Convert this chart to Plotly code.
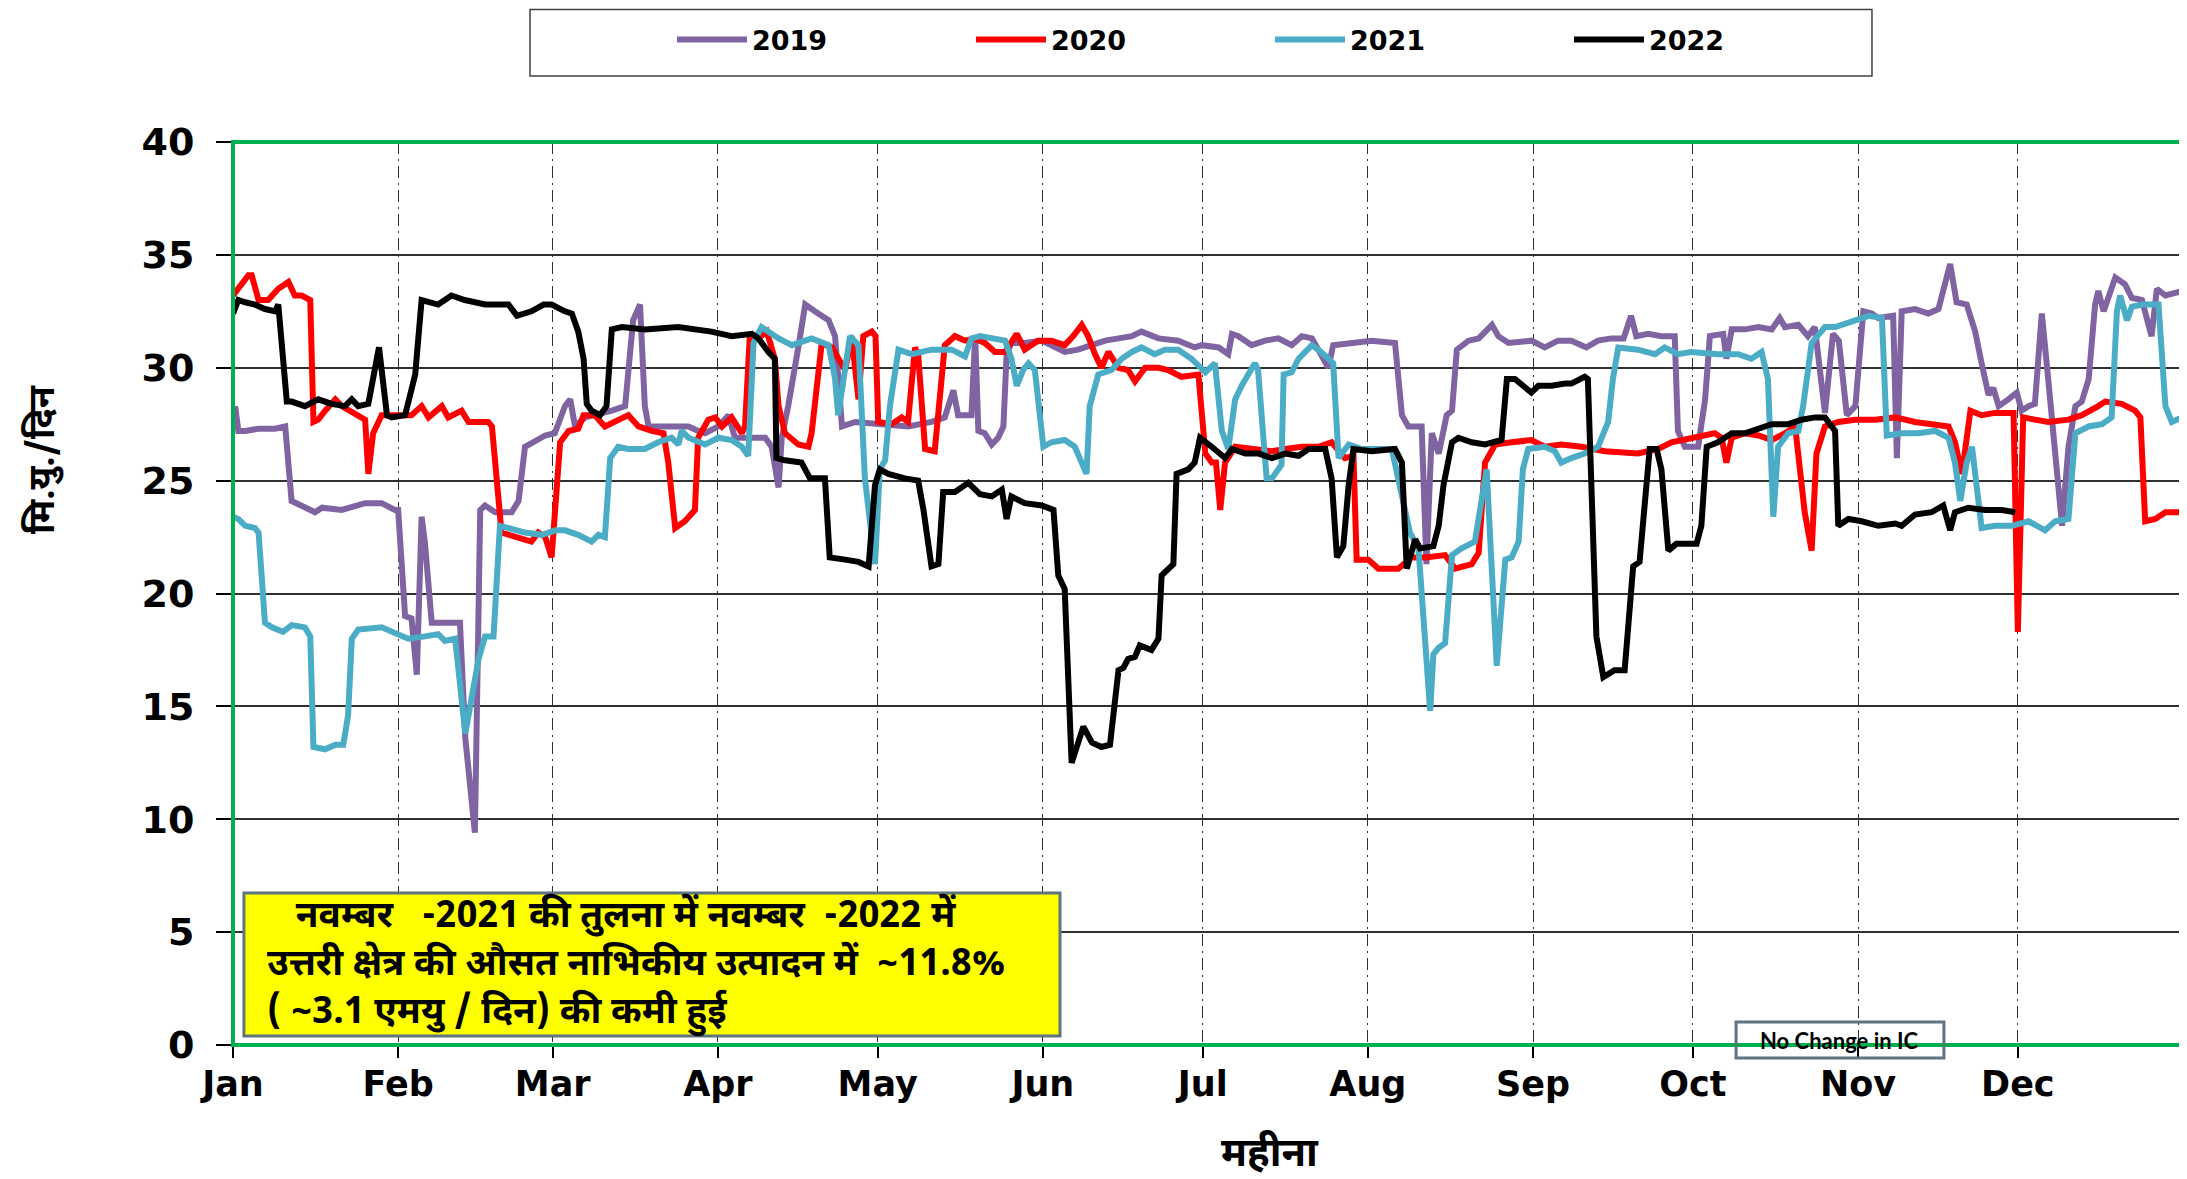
import pandas as pd
import plotly.graph_objects as go

# ---------------- data (day of year, value in MU/day) ----------------
months = ["Jan", "Feb", "Mar", "Apr", "May", "Jun", "Jul", "Aug", "Sep", "Oct", "Nov", "Dec", ""]

day_2019 = [0.4, 1, 2.3, 4.8, 7.9, 9.8, 11, 12.9, 15.4, 16.7, 20.4, 24.8, 27.9, 30.4, 31, 32.3, 33.5, 34.5, 35.4, 36,
            37.3, 39.2, 42.6, 43.6, 45.4, 46.4, 47.3, 49.2, 52.3, 53.6, 54.8, 58.6, 60.4, 62.3, 63.3, 64.2, 66.1, 71.1,
            73.6, 75.1, 76.4, 77.3, 78, 80.5, 85.5, 87.3, 88.6, 91.1, 93, 94.2, 96.1, 99.9, 101.1, 102.4, 103, 104.2,
            106.1, 107.4, 109.2, 111.8, 113, 114.3, 116.8, 121.1, 126.7, 131.1, 133.6, 135.2, 136.1, 138.6, 139.3,
            139.9, 141.1, 142.4, 143.6, 144.6, 145.2, 146.1, 148.6, 151.8, 156.1, 158.6, 161.2, 163.7, 166.2, 168.7,
            170.5, 173.7, 177.4, 180.5, 181.8, 185, 186.8, 187.5, 188.7, 191.2, 193.7, 196.2, 198.7, 200.6, 202.5,
            205.6, 206.5, 210, 213.7, 218.1, 219.4, 220.6, 223.1, 224, 225, 226.3, 227.8, 228.8, 229.7, 231.9, 233.8,
            236.3, 237.5, 239.4, 243.7, 246.2, 248.7, 251.2, 254, 256.2, 258.7, 261, 262.4, 263.4, 265.6, 268.1,
            270.6, 271.2, 272.5, 275, 276.3, 277.2, 279.7, 280.3, 281.3, 283.8, 286.3, 288.8, 290.3, 291.3, 293.8,
            295.6, 296.9, 298.8, 300.3, 301.4, 302.9, 304.5, 306, 307.6, 308.8, 311.6, 312.3, 313.2, 315.7, 318.2,
            320.1, 322.3, 323.5, 325.4, 327, 328.2, 329.5, 330.4, 331.4, 333.2, 334.8, 335.7, 337, 338.2, 339.5,
            340.7, 343.3, 344.5, 345.8, 347, 348.3, 349.5, 350.1, 351.1, 353.3, 355.1, 356.4, 358.3, 360.1, 361.1,
            362.7, 365.8]
val_2019 = [28.3, 27.2, 27.2, 27.3, 27.3, 27.4, 24.1, 23.9, 23.6, 23.8, 23.7, 24, 24, 23.7, 23.7, 19, 18.9, 16.4, 23.4,
            22.3, 18.7, 18.7, 18.7, 13.6, 9.4, 23.7, 23.9, 23.6, 23.6, 24.1, 26.5, 27, 27.1, 28.3, 28.6, 27.4, 27.8,
            28.1, 28.3, 32.1, 32.8, 28.3, 27.4, 27.4, 27.4, 27.2, 27.1, 27.4, 27.9, 26.9, 26.9, 26.9, 26.5, 24.7,
            26.9, 28.3, 30.9, 32.8, 32.5, 32.1, 31.4, 27.4, 27.6, 27.5, 27.4, 27.6, 27.8, 29, 27.9, 27.9, 31.4, 27.2,
            27.1, 26.6, 26.9, 27.4, 30.6, 31.1, 31.1, 31.2, 30.7, 30.8, 31, 31.2, 31.3, 31.4, 31.6, 31.3, 31.2, 30.9,
            31, 30.9, 30.6, 31.5, 31.4, 31, 31.2, 31.3, 31, 31.4, 31.3, 30, 31, 31.1, 31.2, 31.1, 27.9, 27.4, 27.4,
            21.3, 27.1, 26.2, 27.9, 28.1, 30.8, 31.2, 31.3, 31.9, 31.4, 31.1, 31.2, 30.9, 31.2, 31.2, 30.9, 31.2,
            31.3, 31.3, 32.3, 31.4, 31.5, 31.4, 31.4, 27.2, 26.5, 26.5, 28.6, 31.4, 31.5, 30.4, 31.7, 31.7, 31.8,
            31.7, 32.2, 31.8, 31.9, 31.4, 31.8, 28.0, 31.5, 31.2, 27.9, 28.3, 32.5, 32.4, 32.2, 32.3, 26, 32.5, 32.6,
            32.4, 32.6, 34.6, 32.9, 32.8, 31.6, 30.2, 28.8, 29.1, 28.3, 28.6, 28.9, 28.1, 28.3, 28.4, 32.4, 29.5, 23,
            26.5, 28.3, 28.5, 29.5, 32.8, 33.4, 32.5, 34, 33.7, 33.1, 33, 31.4, 33.5, 33.2, 33.4]

day_2020 = [0, 2.9, 3.5, 4.8, 6.6, 8.5, 10.4, 11.6, 12.9, 14.5, 15.1, 16, 17.3, 19.2, 20.4, 21.7, 23.5, 24.8, 25.4,
            26.3, 27.9, 31, 33.5, 35.4, 36.7, 39.2, 40.4, 42.9, 44.2, 47.9, 48.6, 50.4, 52.9, 56, 57.3, 58.6, 59.8,
            61.4, 63, 64.8, 65.8, 67.9, 69.8, 71.7, 74.2, 76.1, 78.6, 80.8, 81.7, 83, 84.8, 86.7, 87.3, 89.2, 90.5,
            91.8, 93.6, 95.5, 96.1, 97, 98.6, 100.2, 101.7, 102.4, 103.6, 106.1, 108, 108.6, 110.5, 112.4, 113.6,
            114.9, 116.1, 117.4, 118.3, 119.9, 120.6, 121.1, 123.6, 125.5, 126.7, 128, 128.6, 129.9, 131.7, 133.6,
            135.5, 137.4, 139.2, 141.1, 143, 144.9, 147.1, 148.6, 151.1, 153.6, 156.1, 157.7, 159.3, 160.5, 161.8,
            163, 164.3, 166.2, 168, 169.3, 171.2, 173.7, 175.5, 178, 181.2, 182.5, 183.7, 184.5, 185.3, 186.2, 188.1,
            191.2, 195, 197.5, 200.6, 203.7, 206.2, 208.7, 210.3, 210.9, 213.1, 215, 218.7, 221.2, 223.8, 227.5,
            229.4, 232.5, 233.8, 235, 236.9, 240, 243.7, 246.2, 249.3, 253.1, 257.5, 263.7, 267.5, 270, 273.7, 278.1,
            279.4, 280.3, 281.3, 283.8, 286.3, 288.8, 291.3, 293.2, 295, 296.3, 297.2, 298.8, 301.3, 304.5, 308.2,
            312, 315.7, 319.5, 322, 323.2, 324.5, 326.1, 328.2, 330.7, 334.2, 335, 336, 338.2, 340.7, 344.5, 347,
            350.1, 351.4, 354.5, 357, 358, 358.9, 360.8, 362.7, 365.8]
val_2020 = [33.2, 34.1, 34.1, 33, 33, 33.5, 33.8, 33.2, 33.2, 33, 27.6, 27.7, 28.1, 28.6, 28.3, 28.1, 27.9, 27.7, 25.3,
            27.1, 27.9, 27.9, 27.9, 28.3, 27.8, 28.3, 27.8, 28.1, 27.6, 27.6, 27.4, 22.7, 22.5, 22.3, 22.7, 22.5,
            21.6, 26.7, 27.2, 27.3, 27.9, 27.9, 27.4, 27.6, 27.9, 27.4, 27.2, 27.1, 25.8, 22.9, 23.2, 23.7, 26.9,
            27.7, 27.8, 27.4, 27.8, 27.1, 27.4, 31.4, 31.3, 31.6, 30.4, 28.3, 27.1, 26.6, 26.5, 27.1, 31.1, 30.9,
            30.4, 29.9, 31.4, 28.6, 31.4, 31.6, 31.4, 27.6, 27.5, 27.8, 27.6, 30.9, 30.6, 26.4, 26.3, 31, 31.4, 31.2,
            31.3, 31.1, 30.7, 30.7, 31.5, 30.8, 31.2, 31.2, 31, 31.4, 31.9, 31.4, 30.6, 30, 30.7, 30, 29.9, 29.4, 30,
            30, 29.9, 29.6, 29.7, 26.2, 25.8, 25.8, 23.7, 25.8, 26.5, 26.4, 26.3, 26.4, 26.5, 26.5, 26.7, 26, 26.1,
            21.5, 21.5, 21.1, 21.1, 21.6, 21.6, 21.7, 21.1, 21.3, 21.8, 25.8, 26.6, 26.7, 26.8, 26.5, 26.6, 26.5,
            26.3, 26.2, 26.4, 26.7, 26.9, 27.1, 26.9, 25.8, 26.9, 27.1, 27, 26.8, 27.1, 27.4, 23.6, 21.9, 26.2, 27.4,
            27.6, 27.7, 27.7, 27.8, 27.6, 27.5, 27.4, 26.7, 25.3, 28.1, 27.9, 28, 28, 18.3, 27.8, 27.7, 27.6, 27.7,
            27.9, 28.3, 28.5, 28.4, 28.1, 27.8, 23.2, 23.3, 23.6, 23.6]

day_2021 = [0, 1, 2.3, 4.1, 4.8, 6, 7.3, 9.4, 11, 13.5, 14.5, 15.1, 17.3, 19.2, 20.7, 21.6, 22.3, 23.5, 27.9, 31, 32.9,
            36, 38.5, 39.8, 41.7, 43.6, 46.1, 47.3, 48.9, 50.1, 51.7, 54.8, 58, 60.5, 62.3, 64.8, 67.3, 68.6, 69.8,
            70.8, 72.3, 74.2, 77.3, 79.8, 82.3, 83.6, 84.2, 85.5, 88.6, 91.1, 93.6, 95.5, 96.7, 97.7, 99.2, 102.4,
            104.9, 108.6, 111.8, 113, 113.6, 114.9, 115.8, 117.4, 118.6, 120.5, 121.4, 122.4, 123.3, 124.9, 127.4,
            131.1, 134.9, 137.4, 138.6, 140.2, 142.4, 144.9, 146.1, 147.1, 148.3, 149.3, 150.5, 152.1, 153.6, 156.1,
            158, 160.2, 160.8, 162.4, 164.9, 166.8, 168.7, 170.5, 173, 174.9, 177.4, 179.9, 182.5, 184.3, 185.6,
            186.8, 188.1, 189.3, 191.8, 192.4, 194, 195, 196.8, 197.2, 198.7, 200, 202.5, 203.7, 205.6, 206.5, 207.5,
            209.4, 211.9, 215.6, 217.5, 218.7, 220.9, 222.5, 224.7, 225.3, 226.3, 227.5, 228.8, 230.6, 233.1, 235.3,
            237.2, 238.8, 240, 241.3, 242.1, 243.1, 246.2, 248.1, 249.3, 251.2, 253.7, 256.2, 258.1, 259, 260,
            263.7, 266.9, 268.7, 271.2, 273.7, 278.7, 282.5, 285, 286.9, 288.1, 289.1, 290, 291.9, 293.8, 294.7,
            296.3, 298.8, 300.7, 304.5, 307, 309.5, 310.4, 313.2, 316.3, 319.5, 322, 323.2, 324.2, 325.4, 326.4,
            328.2, 330.7, 333.9, 337, 340.1, 342, 344.5, 345.8, 348.3, 350.8, 352.6, 353.6, 354.2, 355.5, 356.4,
            358.3, 361.4, 362.7, 363.9, 365.8]
val_2021 = [23.4, 23.3, 23, 22.9, 22.7, 18.7, 18.5, 18.3, 18.6, 18.5, 18.1, 13.2, 13.1, 13.3, 13.3, 14.6, 18, 18.4,
            18.5, 18.2, 18, 18.1, 18.2, 17.9, 18, 13.8, 17.1, 18.1, 18.1, 23, 22.9, 22.7, 22.6, 22.8, 22.8, 22.6,
            22.3, 22.6, 22.5, 26, 26.5, 26.4, 26.4, 26.7, 26.9, 26.6, 27.2, 26.9, 26.6, 26.9, 26.8, 26.5, 26.1, 31.1,
            31.8, 31.3, 31, 31.3, 31, 29.5, 27.9, 30.1, 31.4, 31, 25.1, 21.3, 25.5, 25.9, 28.3, 30.8, 30.6, 30.8,
            30.8, 30.5, 31.3, 31.4, 31.3, 31.2, 30.4, 29.2, 29.9, 30.2, 29.9, 26.5, 26.7, 26.8, 26.5, 25.3, 28.3,
            29.7, 29.9, 30.4, 30.7, 30.9, 30.6, 30.8, 30.8, 30.4, 29.8, 30.2, 27.2, 26.4, 28.6, 29.2, 30.2, 29.9,
            25.1, 25.1, 25.7, 29.7, 29.8, 30.4, 31, 30.8, 30.4, 30.2, 26, 26.6, 26.4, 26.4, 26.4, 25.1, 22.7, 22,
            14.8, 17.3, 17.6, 17.8, 21.7, 22, 22.3, 25.5, 16.8, 21.5, 21.6, 22.3, 25.5, 26.4, 26.5, 26.3, 25.8, 26,
            26.2, 26.5, 27.6, 29.5, 30.9, 30.8, 30.6, 30.9, 30.6, 30.7, 30.6, 30.6, 30.4, 30.7, 29.5, 23.4, 26.5,
            27.1, 27.2, 28.3, 31.1, 31.8, 31.8, 32.1, 32.3, 32.2, 27, 27.1, 27.1, 27.2, 26.9, 25.8, 24.1, 25.8, 26.5,
            22.9, 23, 23, 23.2, 22.8, 23.2, 23.3, 27.1, 27.4, 27.5, 27.8, 32.5, 33.2, 32.1, 32.7, 32.8, 32.8, 28.3,
            27.6, 27.8]

day_2022 = [0, 1, 2.3, 4.1, 6, 7.9, 8.5, 10.1, 11, 13.5, 16, 18.5, 21, 22.3, 23.5, 25.4, 27.4, 28.9, 29.8, 32.3, 34.2,
            35.4, 38.5, 41, 43.5, 47.3, 49.8, 51.7, 53.3, 56, 58.3, 59.8, 62.3, 63.6, 64.8, 65.8, 66.4, 67.3, 68.9,
            70.1, 71.1, 73, 77.3, 83.6, 89.8, 93.6, 97.4, 98.6, 100.5, 101.7, 102, 103.6, 106.7, 108.3, 111.1, 112,
            114.9, 117.4, 119.3, 120.5, 121.4, 123, 126.1, 128.6, 129.6, 131.1, 132.4, 133.3, 135.5, 138, 140.2,
            142.4, 144.3, 145.2, 146.1, 148.6, 151.8, 154, 154.9, 156.1, 157.4, 158.6, 159.6, 161.2, 163, 164.6,
            166.2, 167.1, 168, 169.3, 170.2, 172.4, 173.7, 174.3, 176.5, 177.1, 179.3, 180.5, 181.5, 183.7, 186.2,
            187.5, 190, 192.5, 195, 197.5, 200, 201.9, 205, 206.2, 207.2, 208.4, 209.4, 210.3, 213.7, 218.1, 219.4,
            220.3, 221.9, 222.8, 225.3, 226.3, 227.2, 228.8, 230, 232.5, 235, 238.1, 239.1, 240.6, 243.7, 245, 247.5,
            250, 251.2, 253.7, 254.3, 255.9, 257.2, 259.3, 261.2, 262.8, 264, 265.9, 267.2, 268.1, 269.4, 270.9,
            272.5, 274.7, 275.6, 276.6, 278.7, 281.3, 283.8, 286.3, 288.8, 291.9, 294.4, 296.9, 298.8, 300.7, 301.3,
            303.2, 305.7, 308.8, 312, 313.2, 315.7, 318.8, 321, 322.3, 323.2, 325.7, 328.9, 332, 334.5]
val_2022 = [32.4, 33, 32.9, 32.8, 32.6, 32.5, 32.8, 28.5, 28.5, 28.3, 28.6, 28.4, 28.3, 28.6, 28.3, 28.4, 30.9, 27.9,
            27.8, 27.9, 29.7, 33, 32.8, 33.2, 33, 32.8, 32.8, 32.8, 32.3, 32.5, 32.8, 32.8, 32.5, 32.4, 31.6, 30.4,
            28.4, 28.1, 27.9, 28.3, 31.7, 31.8, 31.7, 31.8, 31.6, 31.4, 31.5, 31.3, 30.7, 30.4, 26, 25.9, 25.8, 25.1,
            25.1, 21.6, 21.5, 21.4, 21.2, 24.8, 25.5, 25.3, 25.1, 25, 23.7, 21.2, 21.3, 24.5, 24.5, 24.9, 24.4, 24.3,
            24.6, 23.3, 24.3, 24, 23.9, 23.7, 20.8, 20.2, 12.5, 13.4, 14.1, 13.4, 13.2, 13.3, 16.6, 16.7, 17.1, 17.2,
            17.7, 17.5, 18, 20.8, 21.3, 25.3, 25.5, 25.8, 26.9, 26.5, 26, 26.4, 26.2, 26.2, 26, 26.2, 26.1, 26.4,
            26.4, 25.1, 21.6, 22.1, 24.8, 26.4, 26.3, 26.4, 25.8, 21.1, 22.4, 22, 22.1, 23, 24.8, 26.7, 26.9, 26.7,
            26.6, 26.8, 29.5, 29.5, 28.9, 29.2, 29.2, 29.3, 29.3, 29.6, 29.5, 18.1, 16.3, 16.6, 16.6, 21.2, 21.4,
            26.4, 26.4, 25.5, 21.9, 22.2, 22.2, 22.2, 23, 26.5, 26.7, 27.1, 27.1, 27.3, 27.5, 27.5, 27.7, 27.8, 27.8,
            27.2, 23, 23.3, 23.2, 23, 23.1, 23, 23.5, 23.6, 23.9, 22.8, 23.6, 23.8, 23.7, 23.7, 23.6]

series = [
    ("2019", day_2019, val_2019, "#8064A2"),
    ("2020", day_2020, val_2020, "#FF0000"),
    ("2021", day_2021, val_2021, "#4BACC6"),
    ("2022", day_2022, val_2022, "#000000"),
]

base = pd.Timestamp("2020-01-01")
month_starts = pd.date_range("2020-01-01", periods=13, freq="MS")

fig = go.Figure()
for name, days, vals, color in series:
    x = base + pd.to_timedelta(days, unit="D")
    fig.add_trace(go.Scatter(x=x, y=vals, mode="lines", name=name,
                             line=dict(color=color, width=6)))

LAT = "DejaVu Sans"
DEV = "Noto Sans Devanagari, Noto Sans, DejaVu Sans, sans-serif"
FIG_W, FIG_H = 2187, 1179

fig.update_layout(
    width=FIG_W, height=FIG_H,
    margin=dict(l=225, r=12, t=134, b=142),
    paper_bgcolor="white", plot_bgcolor="white",
    showlegend=True,
    legend=dict(orientation="h", xref="container", yref="container",
                x=0.3036, xanchor="left", y=0.9729, yanchor="middle",
                itemwidth=70, entrywidth=214, entrywidthmode="pixels",
                font=dict(family=LAT, size=27, color="black", weight="bold"),
                bgcolor="rgba(0,0,0,0)", borderwidth=0),
    xaxis=dict(type="date", range=[month_starts[0], month_starts[-1]],
               tickvals=month_starts, ticktext=months, automargin=False,
               tickfont=dict(family=LAT, size=35, color="black", weight="bold"),
               ticks="outside", ticklen=12, tickwidth=1.5, tickcolor="black",
               showgrid=True, gridcolor="#303030", gridwidth=1.3, griddash="12px,5px,2px,5px",
               showline=False, zeroline=False, ticklabelstandoff=-4),
    yaxis=dict(range=[0, 40], dtick=5, tick0=0, automargin=False,
               tickfont=dict(family=LAT, size=38, color="black", weight="bold"),
               ticks="outside", ticklen=16, tickwidth=1.5, tickcolor="black",
               showgrid=True, gridcolor="#303030", gridwidth=1.5,
               showline=False, zeroline=False, ticklabelstandoff=14),
)

# plot frame and legend frame
fig.add_shape(type="rect", xref="paper", yref="paper", x0=0, x1=1, y0=0, y1=1,
              line=dict(color="#00B050", width=4), fillcolor="rgba(0,0,0,0)", layer="above")
fig.add_shape(type="rect", xref="paper", yref="paper", x0=0.1523, x1=0.8405, y0=1.0731, y1=1.1466,
              line=dict(color="#404040", width=1.5), fillcolor="rgba(0,0,0,0)")

# yellow note
fig.add_shape(type="rect", xref="paper", yref="paper", x0=0.0056, x1=0.4241, y0=0.010, y1=0.1683,
              line=dict(color="#5E7580", width=3), fillcolor="#FFFF00", layer="above")
note_text = ("\u00a0\u00a0\u00a0नवम्बर\u00a0\u00a0\u00a0-2021 की तुलना में नवम्बर\u00a0\u00a0-2022 में<br>"
             "उत्तरी क्षेत्र की औसत नाभिकीय उत्पादन में\u00a0\u00a0~11.8%<br>"
             "(\u00a0~3.1 एमयु / दिन) की कमी हुई")
fig.add_annotation(xref="paper", yref="paper", x=0.0164, y=0.0885, xanchor="left", yanchor="middle",
                   text=note_text, align="left", showarrow=False,
                   font=dict(family=DEV, size=37, color="black", weight="bold"))

# "No Change in IC" box
fig.add_shape(type="rect", xref="paper", yref="paper", x0=0.7708, x1=0.8774, y0=-0.0144, y1=0.0255,
              line=dict(color="#5E7580", width=3), fillcolor="rgba(0,0,0,0)", layer="above")
fig.add_annotation(xref="paper", yref="paper", x=0.8241, y=0.0055, xanchor="center", yanchor="middle",
                   text="No Change in IC", showarrow=False,
                   font=dict(family="Lato", size=22, color="black", weight="bold"))

# axis titles
fig.add_annotation(xref="paper", yref="paper", x=-0.0964, y=0.648, xanchor="center", yanchor="middle",
                   text="मि.यु./दिन", textangle=-90, showarrow=False,
                   font=dict(family=DEV, size=36, color="black", weight="bold"))
fig.add_annotation(xref="paper", yref="paper", x=0.5318, y=-0.1230, xanchor="center", yanchor="middle",
                   text="महीना", showarrow=False,
                   font=dict(family=DEV, size=40, color="black", weight="bold"))

fig.write_html("out.html")
